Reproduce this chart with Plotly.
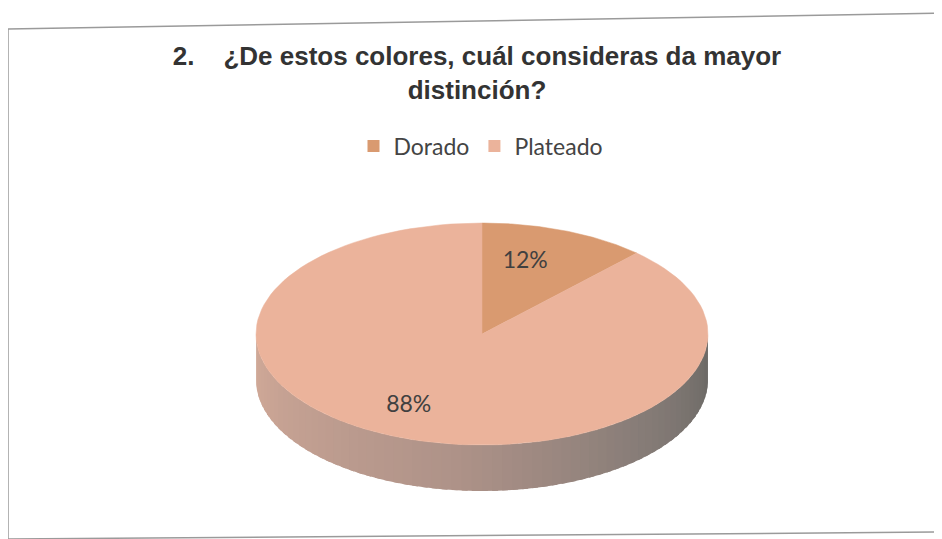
import numpy as np
import plotly.graph_objects as go

# ---- data ----
labels = ["Dorado", "Plateado"]
values = [12, 88]
colors = ["#d99a70", "#ebb39b"]
title_text = "<b>2.    ¿De estos colores, cuál consideras da mayor<br>distinción?</b>"

# ---- geometry (screenshot pixel space; page body adds an 8px offset) ----
W, H = 942, 539
OFF = 8
cx, cy = 482, 334
rx, ry = 226, 111
depth = 46

def pt(theta_deg, scale=1.0):
    t = np.radians(theta_deg)
    return cx + scale * rx * np.sin(t), cy - scale * ry * np.cos(t)

def py_paper(y_px):
    return 1 - (y_px - OFF) / H

fig = go.Figure()

# side wall (front half), shaded from left (warm) to right (grey)
stops = [(0.0, (0xd2, 0xaa, 0x99)), (0.45, (0xaf, 0x93, 0x89)),
         (0.75, (0x86, 0x7c, 0x77)), (1.0, (0x68, 0x67, 0x64))]
def shade(f):
    for (f0, c0), (f1, c1) in zip(stops[:-1], stops[1:]):
        if f0 <= f <= f1:
            u = (f - f0) / (f1 - f0)
            return tuple(int(a + (b - a) * u) for a, b in zip(c0, c1))
    return stops[-1][1]

n_seg = 70
angles = np.linspace(270, 90, n_seg + 1)
for i in range(n_seg):
    a0 = angles[i]
    a1 = max(angles[i + 1] - 1.5, 90) if i < n_seg - 1 else angles[i + 1]
    ts = np.linspace(a0, a1, 5)
    xs, ys = pt(ts)
    px = list(xs) + list(xs[::-1])
    pyy = list(ys) + list((ys + depth)[::-1])
    col = "rgb(%d,%d,%d)" % shade(i / n_seg)
    fig.add_trace(go.Scatter(x=px, y=pyy, fill="toself", fillcolor=col,
                             mode="lines", line=dict(width=0),
                             showlegend=False, hoverinfo="skip"))

# top slices
total = sum(values)
start = 0.0
label_pos = []
for lab, val, col in zip(labels, values, colors):
    span = 360.0 * val / total
    ts = np.linspace(start, start + span, 120)
    xs, ys = pt(ts)
    px = [cx] + list(xs) + [cx]
    pyy = [cy] + list(ys) + [cy]
    fig.add_trace(go.Scatter(x=px, y=pyy, fill="toself", fillcolor=col,
                             mode="lines", line=dict(width=0.5, color=col),
                             showlegend=False, hoverinfo="skip"))
    mid = start + span / 2
    lx, ly = pt(mid, 0.7)
    label_pos.append((lx - 15, ly, "%d%%" % round(100 * val / total)))
    start += span

# legend entries (square markers)
for lab, col in zip(labels, colors):
    fig.add_trace(go.Scatter(x=[None], y=[None], mode="markers", name=lab,
                             marker=dict(symbol="square", size=12, color=col)))

fig.add_trace(go.Scatter(x=[p[0] for p in label_pos], y=[p[1] for p in label_pos],
                         text=[p[2] for p in label_pos], mode="text",
                         textfont=dict(family="Lato, Open Sans, sans-serif", size=23, color="#404040"),
                         showlegend=False, hoverinfo="skip"))

fig.update_layout(
    width=W, height=H,
    margin=dict(l=0, r=0, t=0, b=0),
    paper_bgcolor="white", plot_bgcolor="white",
    xaxis=dict(range=[OFF, W + OFF], visible=False, fixedrange=True),
    yaxis=dict(range=[H + OFF, OFF], visible=False, fixedrange=True),
    title=dict(text=title_text, x=(477 - OFF) / W, xanchor="center",
               y=py_paper(65), yanchor="middle",
               font=dict(family="Liberation Sans, Arial, sans-serif", size=26, color="#333333")),
    legend=dict(orientation="h", x=(481 - OFF) / W, xanchor="center",
                y=py_paper(146), yanchor="middle",
                font=dict(family="Lato, Open Sans, sans-serif", size=23, color="#444444"),
                itemwidth=30, bgcolor="rgba(0,0,0,0)", tracegroupgap=0),
    shapes=[
        dict(type="line", xref="x", yref="y", x0=8, y0=29, x1=950, y1=13,
             line=dict(color="#9a9a9a", width=1.5)),
        dict(type="line", xref="x", yref="y", x0=8, y0=29, x1=8, y1=545,
             line=dict(color="#9a9a9a", width=1.5)),
        dict(type="line", xref="x", yref="y", x0=8, y0=539, x1=950, y1=532,
             line=dict(color="#9a9a9a", width=1.5)),
    ],
)

fig.write_html("out.html")
